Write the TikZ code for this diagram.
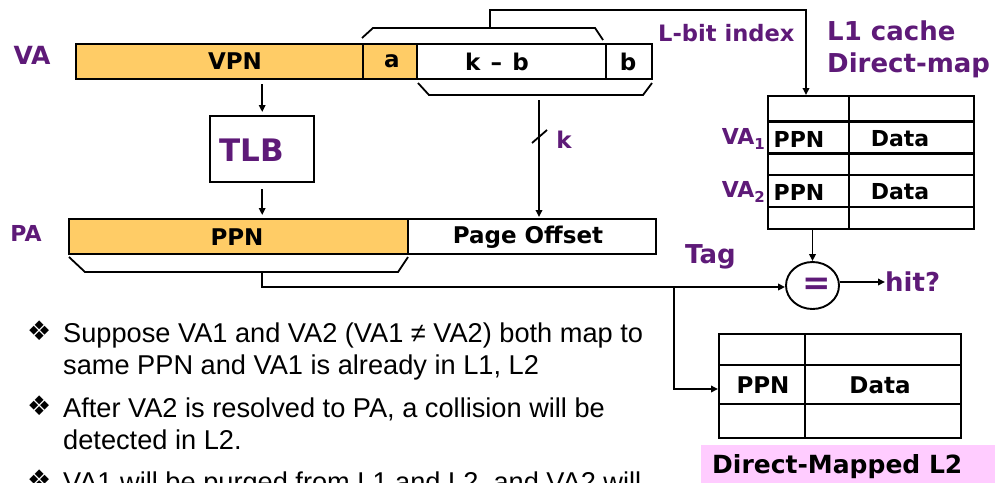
\documentclass[tikz,border=0pt]{standalone}
\usepackage{fontspec}
\setmainfont{Liberation Sans}
\newfontfamily\dv{DejaVu Sans}
\usetikzlibrary{arrows.meta,shapes.geometric}
\definecolor{vpurple}{RGB}{94,26,120}
\definecolor{vorange}{RGB}{255,204,102}
\definecolor{vpink}{RGB}{255,204,255}
\newcommand{\fs}[1]{\fontsize{#1}{#1}\selectfont}
\begin{document}
\begin{tikzpicture}[x=1pt,y=-1pt,
  field/.style={draw=black, line width=2.4pt, inner sep=0pt, anchor=north west,
    font=\dv\bfseries\fs{23}},
  cellbox/.style={draw=black, line width=2.4pt, inner sep=0pt, anchor=north west},
  plbl/.style={inner sep=0pt, text=vpurple, font=\dv\bfseries\fs{#1}},
  blbl/.style={inner sep=0pt, text=black, font=\dv\bfseries\fs{#1}},
  ln/.style={line width=1.8pt},
  arr/.style={line width=1.8pt, -{Triangle[length=7pt,width=6.5pt]}},
  btxt/.style={inner sep=0pt, anchor=base west, font=\fs{27.2}},
  bsym/.style={inner sep=0pt, anchor=base west, font=\dv\fs{27}},
]
\useasboundingbox (0,0) rectangle (995,482);

% VA bar
\node[plbl=25] (valbl) at (32,55) {VA};
\node[field, fill=vorange, minimum width=287pt, minimum height=35pt] (vpn) at (75,43) {};
\node[field, fill=vorange, minimum width=54pt, minimum height=35pt] (fa) at (362,43) {};
\node[field, fill=white, minimum width=189pt, minimum height=35pt] (fkb) at (416,43) {};
\node[field, fill=white, minimum width=46pt, minimum height=35pt] (fb) at (605,43) {};
\node[blbl=23] (tvpn) at (235,61.5) {VPN};
\node[blbl=23] (ta) at (392,61.5) {a};
\node[blbl=23] (tkb) at (497,61.5) {k\hspace{0.45em}–\hspace{0.45em}b};
\node[blbl=23] (tb) at (628,61.5) {b};

% brackets
\draw[ln] (362,38) -- (373,28) -- (595,28) -- (603,40);
\coordinate (ubtop) at (490,28);
\draw[ln] (418,83) -- (429,95) -- (643,95) -- (652,83);
\coordinate (lbbot) at (539,95);

% TLB
\node[cellbox, fill=white, minimum width=104pt, minimum height=66pt] (tlb) at (209,115) {};
\node[plbl=31] (ttlb) at (252,150) {TLB};

% PA bar
\node[plbl=22] (palbl) at (26,233) {PA};
\node[field, fill=vorange, minimum width=339pt, minimum height=35pt] (ppn) at (68,218) {};
\node[field, fill=white, minimum width=248pt, minimum height=35pt] (poff) at (407,218) {};
\node[blbl=23] (tppn) at (237,237) {PPN};
\node[blbl=23] (tpoff) at (528,237) {Page Offset};
\draw[ln] (69,257) -- (85,272) -- (398,272) -- (408,257);
\coordinate (pbbot) at (262,272);

% arrows VA -> TLB -> PA
\draw[arr, shorten <=4pt, shorten >=3pt] (tlb.north |- vpn.south) -- (tlb.north);
\draw[arr, shorten <=6pt, shorten >=3pt] (tlb.south) -- (tlb.south |- ppn.north);
\draw[arr, shorten <=5pt, shorten >=1pt] (lbbot) -- (lbbot |- poff.north);
\draw[ln] (532,143) -- (547,130);
\node[plbl=23] (klbl) at (564,140) {k};

% L1 cache
\node[plbl=22.6, anchor=base west] (lbit) at (658,41) {L-bit index};
\node[plbl=26, anchor=base west] (l1t1) at (827,40) {L1 cache};
\node[plbl=26, anchor=base west] (l1t2) at (827,72) {Direct-map};
\node[cellbox, minimum width=206pt, minimum height=133pt] (l1) at (767,95) {};
\draw[line width=2.4pt] (849,95) -- (849,228);
\draw[line width=2.4pt] (767,121.5) -- (973,121.5);
\draw[line width=2.4pt] (767,153.5) -- (973,153.5);
\draw[line width=2.4pt] (767,175) -- (973,175);
\draw[line width=2.4pt] (767,207) -- (975,207);
\node[blbl=22] (l1p1) at (799,139) {PPN};
\node[blbl=22] (l1d1) at (900,139) {Data};
\node[blbl=22] (l1p2) at (799,192) {PPN};
\node[blbl=22] (l1d2) at (900,192) {Data};
\node[plbl=22, anchor=east] (va1) at (765,139) {VA\raisebox{-0.35ex}{\fs{15}1}};
\node[plbl=22, anchor=east] (va2) at (765,192) {VA\raisebox{-0.35ex}{\fs{15}2}};
\coordinate (l1in) at (806,95);
\draw[arr] (ubtop) |- (806,10) -- (l1in);

% comparator
\node[draw, ellipse, line width=1.9pt, minimum width=53pt, minimum height=47pt, inner sep=0pt] (eq) at (812.5,285.5) {};
\node[plbl=34] (teq) at (817,286) {=};
\node[plbl=26, anchor=west] (hit) at (885,282) {hit?};
\node[plbl=26, anchor=west] (tag) at (685,257) {Tag};
\draw[arr] (eq.north |- l1.south) -- (eq.north);
\draw[arr] (eq.east |- hit.west) -- (hit.west) ;
\draw[arr] (pbbot) -- (262,287) -- (eq.west |- 0,287);

% L2
\node[cellbox, minimum width=242pt, minimum height=104pt] (l2) at (718,333) {};
\draw[line width=2.4pt] (805,333) -- (805,437);
\draw[line width=2.4pt] (718,365) -- (960,365);
\draw[line width=2.4pt] (718,404) -- (960,404);
\node[blbl=23] (l2p) at (763,385) {PPN};
\node[blbl=23] (l2d) at (880,385) {Data};
\coordinate (br) at (674,287);
\draw[arr] (br) |- (l2.west |- 0,389);
\node[fill=vpink, anchor=north west, minimum width=294pt, minimum height=40pt, inner sep=0pt] (l2bg) at (701,445) {};
\node[blbl=25, anchor=west] (l2t) at (712,467) {Direct-Mapped L2};

% bullets
\node[bsym] (b1) at (27,340) {❖};
\node[btxt] (t1a) at (63,342) {Suppose VA1 and VA2 (VA1 ≠ VA2) both map to};
\node[btxt] (t1b) at (63,374) {same PPN and VA1 is already in L1, L2};
\node[bsym] (b2) at (27,415) {❖};
\node[btxt] (t2a) at (63,417) {After VA2 is resolved to PA, a collision will be};
\node[btxt] (t2b) at (63,449) {detected in L2.};
\node[bsym] (b3) at (27,489) {❖};
\node[btxt] (t3a) at (63,491) {VA1 will be purged from L1 and L2, and VA2 will};
\end{tikzpicture}
\end{document}
